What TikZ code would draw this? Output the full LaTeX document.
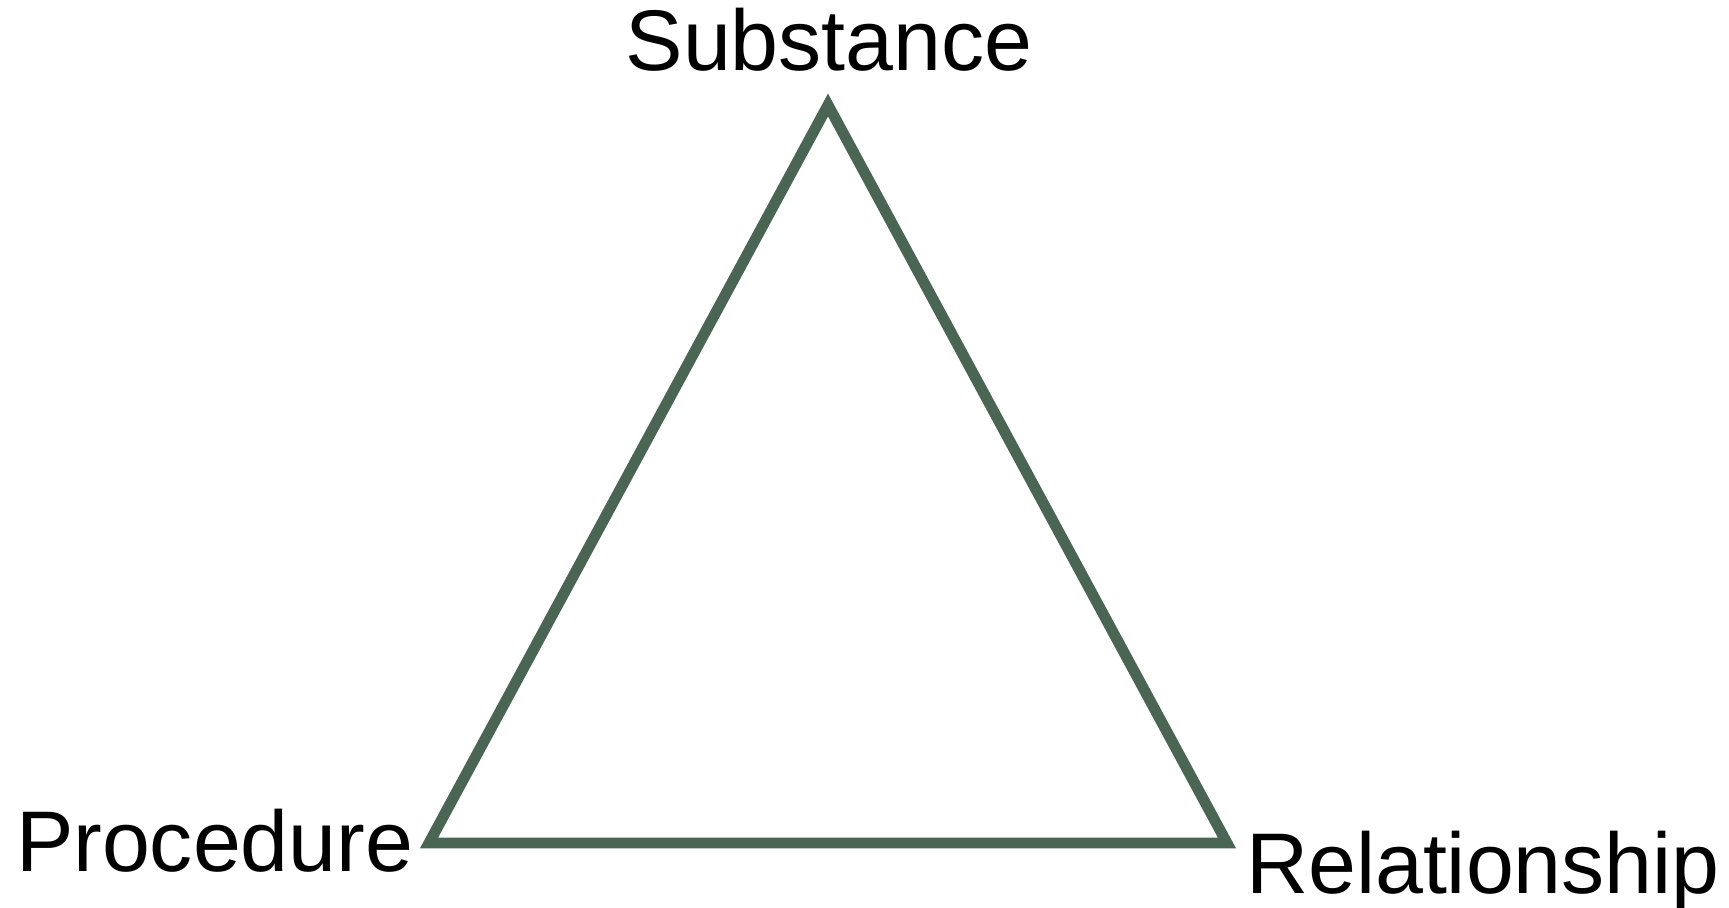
\documentclass[tikz,border=0pt]{standalone}
\usepackage{fontspec}
\setmainfont{Liberation Sans}
\definecolor{edgegreen}{RGB}{74,101,83}
\tikzset{
  lbl/.style={inner sep=0pt, outer sep=0pt, font=\fontsize{49pt}{58pt}\selectfont, text=black},
  tri/.style={draw=edgegreen, line width=6.2pt, miter limit=10, line join=miter}
}
\begin{document}
\begin{tikzpicture}[x=0.02cm,y=-0.02cm]
\useasboundingbox (0,0) rectangle (1729,908);
\coordinate (top) at (828,105);
\coordinate (bl) at (429,843);
\coordinate (br) at (1227,843);
\draw[tri] (top) -- (bl) -- (br) -- cycle;
\node[lbl, anchor=base] (sub) at (829,71) {Substance};
\node[lbl, anchor=base west] (proc) at (16,871) {Procedure};
\node[lbl, anchor=base west] (rel) at (1246,893) {Relationship};
\end{tikzpicture}
\end{document}
